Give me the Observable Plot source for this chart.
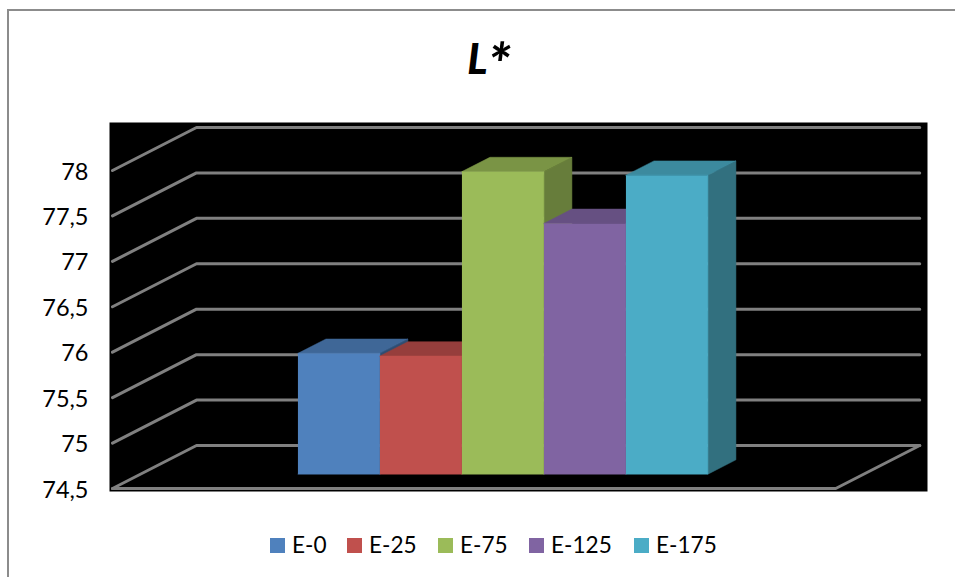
<!DOCTYPE html>
<html lang="es">
<head>
<meta charset="utf-8">
<title>L*</title>
<script src="https://cdn.jsdelivr.net/npm/d3@7"></script>
<script src="https://cdn.jsdelivr.net/npm/@observablehq/plot@0.6"></script>
<style>
  html, body { margin: 0; background: #fff; }
  #chart {
    position: relative; width: 955px; height: 577px; overflow: hidden;
    font-family: Lato, "Liberation Sans", sans-serif; color: #000;
  }
  #edge {
    position: absolute; left: 7px; top: 9px; right: -4px; bottom: -4px;
    border: 2px solid #8c8c8c;
  }
  #plot { position: absolute; left: 0; top: 0; }
  #plot svg { background: transparent; }
  #title {
    position: absolute; left: 0; top: 33px; width: 978px; text-align: center;
    font-size: 42px; line-height: 50px; font-weight: 900; font-style: italic;
  }
  #title span { font-size: 58px; line-height: 0; position: relative; top: 11px; }
  #legend { position: absolute; left: 0; top: 530px; height: 30px; width: 100%; font-size: 22.6px; line-height: 30px; }
  #legend span.item { position: absolute; top: 0; white-space: nowrap; }
  #legend i { position: absolute; left: 0; top: 8px; width: 15px; height: 15px; }
  #legend b { font-weight: 400; margin-left: 22px; }
</style>
</head>
<body>
<div id="chart">
  <div id="edge"></div>
  <div id="title">L<span>*</span></div>
  <div id="plot"></div>
  <div id="legend"></div>
</div>
<script>
// Series of the L* measurement
const series = ["E-0", "E-25", "E-75", "E-125", "E-175"];
const values = [75.83, 75.80, 77.83, 77.26, 77.79];
const frontColors = ["#4F81BD", "#C0504D", "#9BBB59", "#8064A2", "#4BACC6"];
const topColors = ["#3F6797", "#963E3C", "#7A9445", "#665082", "#3C8A9E"];
const sideColors = ["#2F4D71", "#73302E", "#677D3B", "#4D3C61", "#32707F"];
const legendOffsets = [270, 347, 438, 529, 634];
const yTicks = [74.5, 75, 75.5, 76, 76.5, 77, 77.5, 78];

// Oblique projection: depth 0 is the front of the floor, depth 1 the back wall.
const slots = 8.82;          // floor width, in bar widths
const firstBar = 1.92;       // gap before the first bar, in bar widths
const depthX = 84 / 82;      // horizontal shift of full depth, in bar widths
const depthY = 43 / 90.86;   // vertical shift of full depth, in value units
const base = yTicks[0];
const project = (x, depth, v) => ({x: x + depth * depthX, y: v + depth * depthY});

// Back wall, side wall and floor lines
const grid = [];
yTicks.forEach((v) => {
  const id = `g${v}`;
  grid.push({id, ...project(0, 0, v)}, {id, ...project(0, 1, v)}, {id, ...project(slots, 1, v)});
});
grid.push(
  {id: "floor", ...project(0, 0, base)},
  {id: "floor", ...project(slots, 0, base)},
  {id: "floor", ...project(slots, 1, base)}
);

// Bar faces, painted left to right: side, top, front
const faces = [];
series.forEach((name, i) => {
  const x0 = firstBar + i, x1 = x0 + 1, v = values[i], d0 = 1 / 3, d1 = 2 / 3;
  const add = (face, color, pts) => pts.forEach((p) => faces.push({face: `${name}-${face}`, color, ...project(...p)}));
  add("side", sideColors[i], [[x1, d0, base], [x1, d1, base], [x1, d1, v], [x1, d0, v]]);
  add("top", topColors[i], [[x0, d0, v], [x0, d1, v], [x1, d1, v], [x1, d0, v]]);
  add("front", frontColors[i], [[x0, d0, base], [x1, d0, base], [x1, d0, v], [x0, d0, v]]);
});

const chart = Plot.plot({
  width: 955,
  height: 577,
  marginLeft: 109,
  marginRight: 28,
  marginTop: 122,
  marginBottom: 86,
  style: {fontFamily: "Lato, 'Liberation Sans', sans-serif", background: "transparent", overflow: "visible"},
  x: {domain: [-3 / 82, 815 / 82], axis: null},
  y: {domain: [base - 3 / 90.86, base + 366 / 90.86], axis: null},
  color: {type: "identity"},
  marks: [
    Plot.frame({fill: "black", stroke: "none"}),
    Plot.line(grid, {x: "x", y: "y", z: "id", stroke: "#808080", strokeWidth: 3, strokeLinejoin: "miter", curve: "linear"}),
    Plot.line(faces, {x: "x", y: "y", z: "face", fill: "color", stroke: "color", strokeWidth: 0.5, curve: "linear"}),
    Plot.axisY({
      ticks: yTicks,
      tickSize: 0,
      tickPadding: 21,
      fontSize: 23.5,
      dy: 1.5,
      label: null,
      tickFormat: (d) => String(d).replace(".", ",")
    })
  ]
});
document.getElementById("plot").append(chart);

// Legend row under the plot
const legend = d3.select("#legend");
series.forEach((name, i) => {
  const item = legend.append("span").attr("class", "item").style("left", `${legendOffsets[i]}px`);
  item.append("i").style("background", frontColors[i]);
  item.append("b").text(name);
});
</script>
</body>
</html>
